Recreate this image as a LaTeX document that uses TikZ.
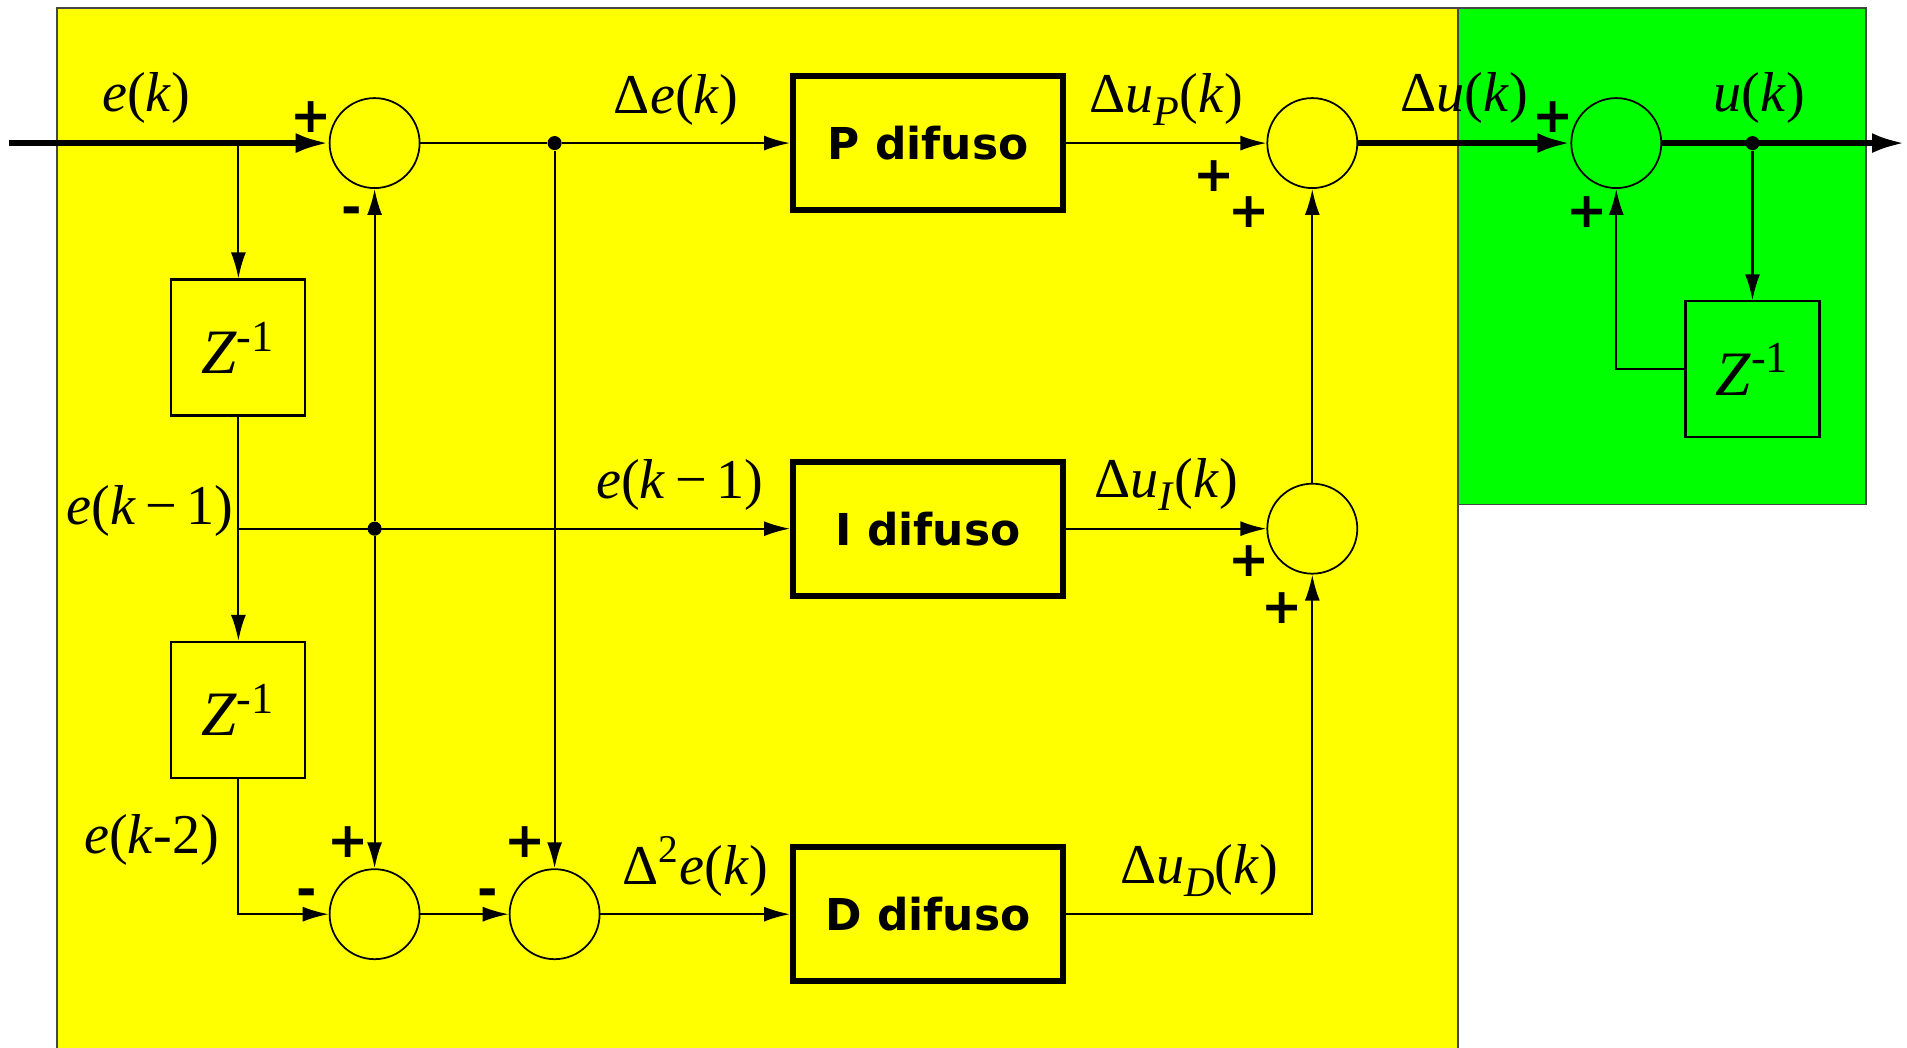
\documentclass[tikz,border=0pt]{standalone}
\usepackage{fontspec}
\setmainfont{Liberation Serif}
\newfontfamily\blocksans{DejaVu Sans}
\usetikzlibrary{arrows.meta,positioning,calc}
\definecolor{fzYellow}{RGB}{255,255,0}
\definecolor{fzGreen}{RGB}{0,255,0}
\definecolor{fzBorder}{RGB}{70,70,70}
\newcommand{\lowsub}[1]{\raisebox{-0.5ex}{\fontsize{12}{12}\selectfont\textit{#1}}}

\begin{document}
\begin{tikzpicture}[font=\fontsize{16}{19}\selectfont,
  sumc/.style={draw,circle,minimum size=0.9cm,inner sep=0pt,line width=0.5pt},
  zbox/.style={draw,minimum width=1.34cm,minimum height=1.36cm,inner sep=0pt,line width=0.6pt,font=\fontsize{18}{20}\selectfont},
  fuzzy/.style={draw,line width=1.7pt,minimum width=2.7cm,minimum height=1.34cm,font=\blocksans\bfseries\fontsize{12.5}{15}\selectfont},
  sgn/.style={font=\blocksans\bfseries\fontsize{14}{16}\selectfont,inner sep=0pt},
  jdot/.style={circle,fill,inner sep=0pt,minimum size=4pt},
  sig/.style={-{Latex[length=2.6mm,width=1.5mm]},line width=0.6pt},
  bus/.style={-{Latex[length=3.3mm,width=2mm]},line width=1.6pt},
  lbl/.style={above=1.5pt}]
    \useasboundingbox (0,0) rectangle (19.07,10.48);
    % Background panels
    \path[fill=fzYellow,draw=fzBorder,line width=0.5pt] (0.572,-0.2) rectangle (14.582,10.399);
    \path[fill=fzGreen,draw=fzBorder,line width=0.5pt] (14.582,5.436) rectangle (18.657,10.399);
    % Blocks
    \coordinate (in) at (0.085,9.049);
    \coordinate (out) at (19.05,9.049);
    \node[sumc] at (3.746,9.049) (s1) {};
    \node[sumc] at (3.746,1.338) (s3) {};
    \node[sumc] at (5.546,1.338) (s4) {};
    \node[sumc] at (13.123,9.049) (s2) {};
    \node[sumc] at (13.123,5.193) (sI) {};
    \node[sumc] at (16.163,9.049) (s5) {};
    \node[zbox] at (2.384,7.005) (z1) {\textit{Z}\textsuperscript{-1}};
    \node[zbox] at (2.384,3.381) (z2) {\textit{Z}\textsuperscript{-1}};
    \node[zbox] at (17.525,6.786) (z3) {\textit{Z}\textsuperscript{-1}};
    \node[fuzzy] at (9.280,9.049) (pfz) {P difuso};
    \node[fuzzy] at (9.280,5.193) (ifz) {I difuso};
    \node[fuzzy] at (9.280,1.338) (dfz) {D difuso};
    \node[jdot] at (s4 |- s1) (d1) {};
    \node[jdot] at (s1 |- ifz) (d2) {};
    \node[jdot] at (z3 |- s5) (d3) {};
    % Error chain
    \draw[bus] (in) -- node[lbl,pos=0.43]{\textit{e}(\textit{k})} (s1);
    \draw[sig] (in -| z1) -- (z1);
    \draw[sig] (z1) -- (z2);
    \draw[sig] (z1 |- ifz) -- node[lbl,pos=0.8]{\textit{e}(\textit{k}\,−\,1)} (ifz);
    \node[anchor=east,inner sep=0pt] at ($(z1 |- ifz)+(-0.04,0.18)$) (lblek1) {\textit{e}(\textit{k}\,−\,1)};
    \draw[sig] (z2) |- (s3);
    \node[anchor=east,inner sep=0pt] at (2.2,2.08) (lblek2) {\textit{e}(\textit{k}-2)};
    \draw[sig] (d2) -- (s1);
    \draw[sig] (d2) -- (s3);
    \draw (s1) -- (d1);
    \draw[sig] (d1) -- node[lbl]{Δ\textit{e}(\textit{k})} (pfz);
    \draw[sig] (d1) -- (s4);
    \draw[sig] (s3) -- (s4);
    \draw[sig] (s4) -- node[lbl]{Δ\textsuperscript{2}\textit{e}(\textit{k})} (dfz);
    % Fuzzy outputs
    \draw[sig] (pfz) -- node[lbl]{Δ\textit{u}\lowsub{P}(\textit{k})} (s2);
    \draw[sig] (ifz) -- node[lbl]{Δ\textit{u}\lowsub{I}(\textit{k})} (sI);
    \draw[sig] (dfz) -| node[lbl,pos=0.27]{Δ\textit{u}\lowsub{D}(\textit{k})} (sI);
    \draw[sig] (sI) -- (s2);
    % Incremental accumulator
    \draw[bus] (s2) -- node[lbl]{Δ\textit{u}(\textit{k})} (s5);
    \draw[bus] (s5) -- node[lbl,pos=0.4]{\textit{u}(\textit{k})} (out);
    \draw[sig] (d3) -- (z3);
    \draw[sig] (z3) -| (s5);
    % Signs
    \node[sgn] at (3.113,9.305) (p1) {+};
    \node[sgn] at (3.515,8.319) (m1) {-};
    \node[sgn] at (3.065,1.508) (m3) {-};
    \node[sgn] at (3.478,2.055) (p3) {+};
    \node[sgn] at (4.877,1.508) (m4) {-};
    \node[sgn] at (5.254,2.055) (p4) {+};
    \node[sgn] at (12.138,8.720) (p2a) {+};
    \node[sgn] at (12.490,8.355) (p2b) {+};
    \node[sgn] at (12.490,4.865) (pIa) {+};
    \node[sgn] at (12.819,4.403) (pIb) {+};
    \node[sgn] at (15.531,9.305) (p5a) {+};
    \node[sgn] at (15.871,8.355) (p5b) {+};
\end{tikzpicture}
\end{document}
